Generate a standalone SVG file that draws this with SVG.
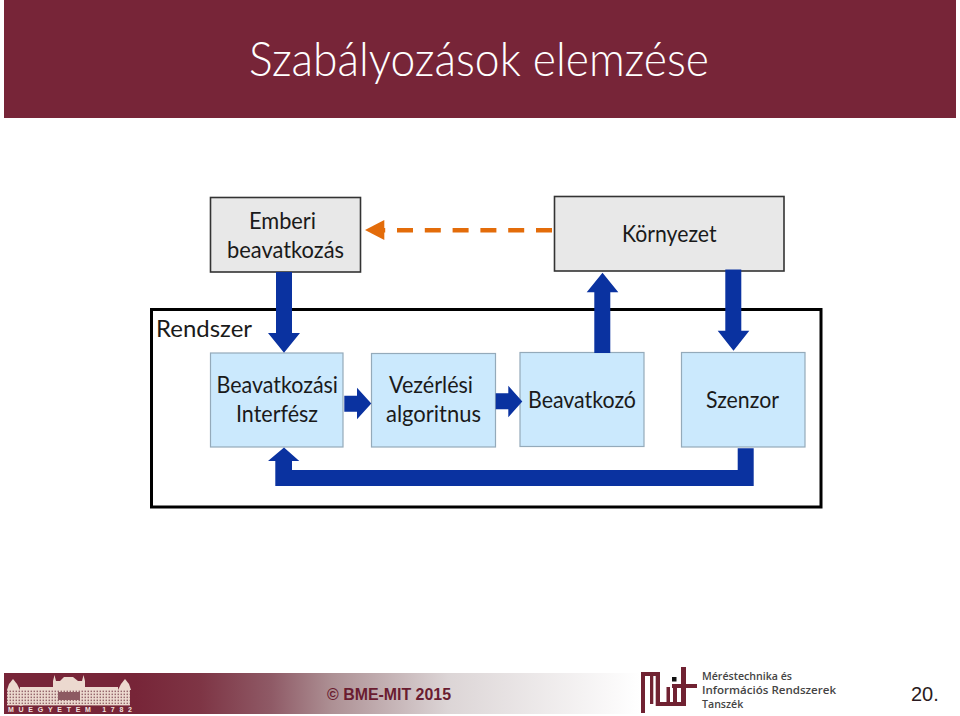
<svg xmlns="http://www.w3.org/2000/svg" width="960" height="716" viewBox="0 0 960 716">
<style>
text{font-family:Lato,"Liberation Sans",sans-serif;fill:#1a1a1a;font-size:22.5px}
.gray{fill:#e8e8e8;stroke:#333;stroke-width:1.6}
.blue{fill:#cbe9fd;stroke:#94aaba;stroke-width:1.2}
.flow{fill:#0a32a0}
.mit{fill:#702232}
.b{fill:#ecd9cf}
.dept{font-family:"Open Sans","Liberation Sans",sans-serif;font-size:10.6px;fill:#444;font-weight:600}
</style>
<defs>
<linearGradient id="foot" x1="0" x2="1" y1="0" y2="0">
<stop offset="0" stop-color="#772538"/><stop offset="0.13" stop-color="#7e3545"/><stop offset="0.27" stop-color="#8f5a66"/><stop offset="0.39" stop-color="#ad9094"/><stop offset="0.62" stop-color="#dcd5d6"/><stop offset="1" stop-color="#ffffff"/>
</linearGradient>
<pattern id="win" width="3" height="3" patternUnits="userSpaceOnUse"><rect width="3" height="3" fill="#ecd9cf"/><rect x="0.6" y="0.6" width="1.3" height="1.5" fill="#8d5a62"/></pattern>
</defs>
<g id="header">
<rect x="4" y="0" width="952" height="118" fill="#772538"/>
<text x="249" y="75.7" style="font-size:47px;font-weight:300;fill:#fff" textLength="460" lengthAdjust="spacingAndGlyphs">Szabályozások elemzése</text>
</g>
<g id="system">
<rect x="151.5" y="309.5" width="669.5" height="197.5" fill="#fff" stroke="#000" stroke-width="3"/>
<text x="156" y="337" textLength="96" lengthAdjust="spacingAndGlyphs">Rendszer</text>
</g>
<g id="emberi">
<rect class="gray" x="210.5" y="197.5" width="150" height="74.5"/>
<text x="249" y="229" textLength="67" lengthAdjust="spacingAndGlyphs">Emberi</text>
<text x="227" y="257.5" textLength="117" lengthAdjust="spacingAndGlyphs">beavatkozás</text>
</g>
<g id="kornyezet">
<rect class="gray" x="554.5" y="196.5" width="229.5" height="74.5"/>
<text x="622" y="241.5" textLength="94.5" lengthAdjust="spacingAndGlyphs">Környezet</text>
</g>
<g id="interfesz">
<rect class="blue" x="210.5" y="353" width="132.5" height="94"/>
<text x="216.5" y="393" textLength="121.5" lengthAdjust="spacingAndGlyphs">Beavatkozási</text>
<text x="236" y="422" textLength="82" lengthAdjust="spacingAndGlyphs">Interfész</text>
</g>
<g id="vezerlesi">
<rect class="blue" x="371.5" y="353.5" width="124" height="93.5"/>
<text x="389" y="393" textLength="84" lengthAdjust="spacingAndGlyphs">Vezérlési</text>
<text x="386" y="422" textLength="95" lengthAdjust="spacingAndGlyphs">algoritnus</text>
</g>
<g id="beavatkozo">
<rect class="blue" x="520" y="352.5" width="124" height="94"/>
<text x="528" y="407.7" textLength="108" lengthAdjust="spacingAndGlyphs">Beavatkozó</text>
</g>
<g id="szenzor">
<rect class="blue" x="681.5" y="352.5" width="123.5" height="94.5"/>
<text x="706" y="407.7" textLength="73" lengthAdjust="spacingAndGlyphs">Szenzor</text>
</g>
<g id="connectors">
<polygon class="flow" points="276,272 292,272 292,333 300,333 284,352.7 268,333 276,333"/>
<polygon class="flow" points="594.3,353 610.3,353 610.3,292.3 618.3,292.3 602.5,272.7 586.7,292.3 594.3,292.3"/>
<polygon class="flow" points="725.3,269.5 741.3,269.5 741.3,330.7 749.3,330.7 733.5,350.7 717.7,330.7 725.3,330.7"/>
<polygon class="flow" points="344.3,395.7 357,395.7 357,387.7 371.3,403.5 357,419.3 357,411.7 344.3,411.7"/>
<polygon class="flow" points="495.7,393.3 508.3,393.3 508.3,385.7 522.3,401.5 508.3,417.3 508.3,409.3 495.7,409.3"/>
<polygon class="flow" points="737.7,448.3 753.7,448.3 753.7,486 275.3,486 275.3,461 268,461 284,447.5 299.3,461 292,461 292,470 737.7,470"/>
<path d="M552 230.3H384" fill="none" stroke="#e36c0a" stroke-width="4.6" stroke-dasharray="16 11.8"/>
<polygon points="365,230 384.3,220 384.3,240" fill="#e36c0a"/>
</g>
<g id="footer">
<rect x="135" y="673" width="505" height="41" fill="url(#foot)"/>
<rect x="4" y="673" width="131" height="41" fill="#772538"/>
<g id="building">
<rect x="7" y="690" width="123" height="14" fill="url(#win)"/>
<polygon class="b" points="7,690 9,684 13,679 17,684 20,690"/>
<polygon class="b" points="118,690 121,684 125,679 129,684 131,690"/>
<rect class="b" x="20" y="687" width="33" height="3"/>
<rect class="b" x="85" y="687" width="33" height="3"/>
<polygon class="b" points="53,690 53,681 54.5,675 56,681 60,681 64,677 73,677 78,681 82,681 83.5,675 85,681 85,690"/>
<rect x="58" y="692" width="22" height="8" fill="#8d5a62"/>
<rect x="7" y="704" width="123" height="1.4" fill="#ecd9cf"/>
<text x="8" y="712" style="font-family:'Liberation Sans',sans-serif;font-size:7px;fill:#f0e0dc;font-weight:700" textLength="124">MÜEGYETEM  1782</text>
</g>
<text x="327" y="700" style="font-family:'Liberation Sans',sans-serif;font-size:16px;font-weight:700;fill:#6a1c30" textLength="124" lengthAdjust="spacingAndGlyphs">© BME-MIT 2015</text>
<g id="mit-logo">
<path class="mit" d="M641 672H660V702H666.5V687H660V687H670V702H673V688H677V702H681V688H672V684H681V667H686V684H697V688H686V706H655.7V676H653.3V704H650V676H645V713H641Z"/>
<rect x="672" y="677" width="4.5" height="4.5" fill="#111"/>
</g>
<text class="dept" x="702" y="680">Méréstechnika és</text>
<text class="dept" x="702" y="694" textLength="134" lengthAdjust="spacingAndGlyphs">Információs Rendszerek</text>
<text class="dept" x="702" y="708">Tanszék</text>
<text x="911" y="701" style="font-family:'Liberation Sans',sans-serif;font-size:20px;fill:#2a1a20">20.</text>
</g>
</svg>
